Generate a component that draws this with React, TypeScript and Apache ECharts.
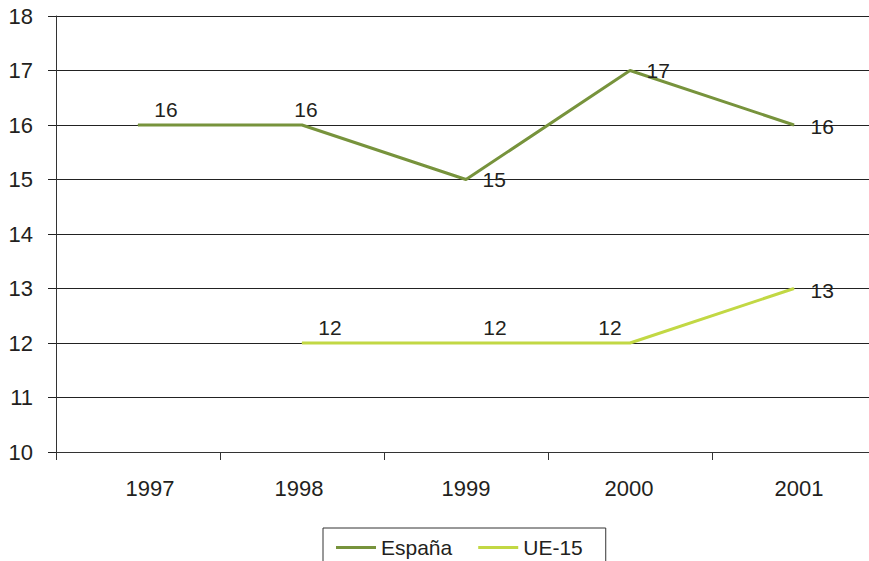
import React, { useEffect, useRef } from "react";
import * as echarts from "echarts";

const years = ["1997", "1998", "1999", "2000", "2001"];
const espana = [16, 16, 15, 17, 16];
const ue15 = [null, 12, 12, 12, 13];
// label placement per point: [position, dx, dy]
const espanaLabelPos: [string, number, number][] = [
  ["top", 28, 0],
  ["top", 4, 0],
  ["right", 0, 0],
  ["right", 0, 0],
  ["right", 0, 1],
];
const ueLabelPos: [string, number, number][] = [
  ["top", 0, 0],
  ["top", 28, 0],
  ["top", 29, 0],
  ["top", -20, 0],
  ["right", 0, 2],
];
const xLabelShift: Record<string, number> = { "1997": 12, "1998": -3, "1999": 0, "2000": -1, "2001": 5 };

const FONT = "'Liberation Sans', Arial, sans-serif";
const TEXT = "#231F20";

function buildData(values: (number | null)[], pos: [string, number, number][]) {
  return values.map((v, i) => {
    if (v === null) return null;
    const [p, dx, dy] = pos[i];
    return {
      value: v,
      label: {
        position: p,
        distance: p === "right" ? 16 : 5,
        offset: [dx, dy],
      },
    };
  });
}

export default function App() {
  const ref = useRef<HTMLDivElement>(null);
  useEffect(() => {
    if (!ref.current) return;
    const chart = echarts.init(ref.current, null, { renderer: "svg" });
    const rich: Record<string, any> = {};
    years.forEach((y) => {
      const s = xLabelShift[y] || 0;
      rich["y" + y] = {
        fontSize: 22,
        fontFamily: FONT,
        color: TEXT,
        padding: s >= 0 ? [0, 0, 0, 2 * s] : [0, -2 * s, 0, 0],
      };
    });
    chart.setOption({
      animation: false,
      backgroundColor: "#ffffff",
      textStyle: { fontFamily: FONT, color: TEXT },
      grid: { left: 56, right: 0, top: 16, bottom: 109, containLabel: false },
      legend: {
        left: 323,
        top: 528,
        orient: "horizontal",
        icon: "rect",
        itemWidth: 40,
        itemHeight: 3,
        itemGap: 26,
        padding: [9, 23, 9, 13],
        borderColor: "#333",
        borderWidth: 1,
        textStyle: { fontSize: 21, fontFamily: FONT, color: TEXT },
        data: ["España", "UE-15"],
      },
      xAxis: {
        type: "category",
        data: years,
        boundaryGap: true,
        axisLine: { show: true, lineStyle: { color: "#333", width: 1 } },
        axisTick: { show: true, interval: 0, length: 8, lineStyle: { color: "#333" } },
        axisLabel: {
          interval: 0,
          hideOverlap: false,
          margin: 25,
          fontSize: 22,
          fontFamily: FONT,
          color: TEXT,
          formatter: (v: string) => `{y${v}|${v}}`,
          rich,
        },
        splitLine: { show: false },
      },
      yAxis: {
        type: "value",
        min: 10,
        max: 18,
        interval: 1,
        axisLine: { show: true, lineStyle: { color: "#333", width: 1 } },
        axisTick: { show: true, length: 8, lineStyle: { color: "#222" } },
        axisLabel: { margin: 23, fontSize: 22, fontFamily: FONT, color: TEXT },
        splitLine: { show: true, lineStyle: { color: "#222", width: 1 } },
      },
      series: [
        {
          name: "España",
          type: "line",
          data: buildData(espana, espanaLabelPos),
          symbol: "circle",
          symbolSize: 1,
          showSymbol: true,
          itemStyle: { color: "#77933C" },
          lineStyle: { color: "#77933C", width: 3 },
          label: { show: true, fontSize: 21, fontFamily: FONT, color: TEXT },
          z: 3,
        },
        {
          name: "UE-15",
          type: "line",
          data: buildData(ue15, ueLabelPos),
          symbol: "circle",
          symbolSize: 1,
          showSymbol: true,
          itemStyle: { color: "#C2D844" },
          lineStyle: { color: "#C2D844", width: 3 },
          label: { show: true, fontSize: 21, fontFamily: FONT, color: TEXT },
          z: 3,
        },
      ],
    });
    return () => chart.dispose();
  }, []);
  return (
    <div style={{ position: "fixed", left: 0, top: 0, width: 869, height: 561, overflow: "hidden", background: "#fff" }}>
      <div ref={ref} style={{ width: 876, height: 561 }} />
    </div>
  );
}
